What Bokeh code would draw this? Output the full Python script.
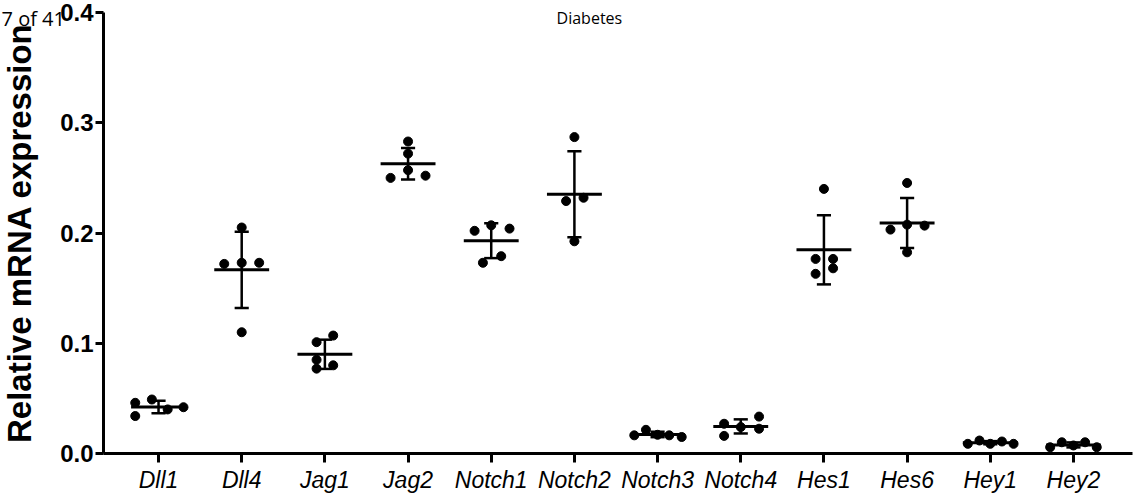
import numpy as np
from bokeh.plotting import figure
from bokeh.models import FixedTicker, NumeralTickFormatter, Range1d, Label
from bokeh.embed import file_html
from bokeh.resources import INLINE

# ---- data ----
genes = ["Dll1", "Dll4", "Jag1", "Jag2", "Notch1", "Notch2",
         "Notch3", "Notch4", "Hes1", "Hes6", "Hey1", "Hey2"]

dll1 = [0.046, 0.034, 0.049, 0.040, 0.042]
dll4 = [0.205, 0.172, 0.173, 0.173, 0.110]
jag1 = [0.101, 0.107, 0.085, 0.077, 0.080]
jag2 = [0.283, 0.272, 0.257, 0.250, 0.252]
notch1 = [0.202, 0.204, 0.207, 0.173, 0.179]
notch2 = [0.287, 0.229, 0.232, 0.1925]
notch3 = [0.0165, 0.0215, 0.017, 0.0165, 0.015]
notch4 = [0.027, 0.016, 0.024, 0.0335, 0.0225]
hes1 = [0.240, 0.1765, 0.1765, 0.168, 0.163]
hes6 = [0.2454, 0.2031, 0.2076, 0.2067, 0.1825]
hey1 = [0.0088, 0.0118, 0.0088, 0.0109, 0.0088]
hey2 = [0.0057, 0.0102, 0.0073, 0.0102, 0.0057]

y_ticks = [0.0, 0.1, 0.2, 0.3, 0.4]

series = [dll1, dll4, jag1, jag2, notch1, notch2,
          notch3, notch4, hes1, hes6, hey1, hey2]

# horizontal scatter spread of the dots within each column (layout only)
spread = [
    [-0.28, -0.28, -0.08, 0.11, 0.30],
    [0.0, -0.21, 0.0, 0.21, 0.0],
    [-0.10, 0.10, -0.10, -0.10, 0.10],
    [0.0, 0.0, 0.0, -0.21, 0.21],
    [-0.20, 0.22, 0.0, -0.10, 0.12],
    [0.0, -0.10, 0.11, 0.0],
    [-0.28, -0.14, 0.0, 0.14, 0.29],
    [-0.20, -0.20, 0.0, 0.22, 0.22],
    [0.0, -0.10, 0.11, 0.11, -0.10],
    [0.0, -0.20, 0.0, 0.21, 0.0],
    [-0.27, -0.13, 0.0, 0.14, 0.28],
    [-0.28, -0.14, 0.0, 0.14, 0.28],
]

FONT = "Liberation Sans"
# view window (the frame covers the whole canvas; axes are pinned at x0 / y=0)
X_LEFT, X_AXIS, X_END, X_RIGHT = -1.90, -0.661, 11.71, 11.77
Y_BOTTOM, Y_TOP = -0.0417, 0.4109

p = figure(width=1137, height=499, output_backend="svg", toolbar_location=None,
           x_range=Range1d(X_LEFT, X_RIGHT), y_range=Range1d(Y_BOTTOM, Y_TOP),
           min_border_left=0, min_border_right=0, min_border_top=0,
           min_border_bottom=0)
p.outline_line_color = None
p.xgrid.visible = False
p.ygrid.visible = False
p.background_fill_color = "white"
p.border_fill_color = "white"

# dots
xs, ys = [], []
for i, (vals, offs) in enumerate(zip(series, spread)):
    for v, o in zip(vals, offs):
        xs.append(i + o)
        ys.append(v)
p.scatter(xs, ys, size=9, color="black")

# mean and SD
idx = np.arange(len(genes))
means = np.array([np.mean(s) for s in series])
sds = np.array([np.std(s, ddof=1) for s in series])
half_mean = 0.33
half_cap = 0.085
p.segment(idx - half_mean, means, idx + half_mean, means, line_width=3, color="black")
p.segment(idx, means - sds, idx, means + sds, line_width=2.5, color="black")
p.segment(idx - half_cap, means + sds, idx + half_cap, means + sds, line_width=2.5, color="black")
p.segment(idx - half_cap, means - sds, idx + half_cap, means - sds, line_width=2.5, color="black")

# x axis, pinned at y = 0
xa = p.xaxis[0]
xa.fixed_location = 0.0
xa.ticker = FixedTicker(ticks=list(range(len(genes))))
xa.major_label_overrides = {i: g for i, g in enumerate(genes)}
xa.bounds = (X_AXIS, X_END)
xa.major_label_text_font = FONT
xa.major_label_text_font_style = "italic"
xa.major_label_text_font_size = "23px"
xa.major_label_text_color = "black"
xa.major_label_standoff = 4
xa.axis_line_width = 3
xa.axis_line_color = "black"
xa.major_tick_line_width = 3
xa.major_tick_line_color = "black"
xa.major_tick_out = 9
xa.major_tick_in = 0
xa.minor_tick_line_color = None

# y axis, pinned at the left end of the x axis
ya = p.yaxis[0]
ya.fixed_location = X_AXIS
ya.bounds = (0.0, 0.4)
ya.ticker = FixedTicker(ticks=y_ticks)
ya.formatter = NumeralTickFormatter(format="0.0")
ya.major_label_text_font = FONT
ya.major_label_text_font_style = "bold"
ya.major_label_text_font_size = "24px"
ya.major_label_text_color = "black"
ya.major_label_standoff = 2
ya.axis_line_width = 3
ya.axis_line_color = "black"
ya.major_tick_line_width = 3
ya.major_tick_line_color = "black"
ya.major_tick_out = 8
ya.major_tick_in = 0
ya.minor_tick_line_color = None
ya.axis_label = "Relative mRNA expression"
ya.axis_label_text_font = FONT
ya.axis_label_text_font_style = "bold"
ya.axis_label_text_font_size = "33px"
ya.axis_label_text_color = "black"
ya.axis_label_standoff = 19

# page header texts
p.add_layout(Label(x=5.18, y=0.3946, text="Diabetes", text_font="Open Sans",
                   text_font_size="16px", text_align="center",
                   text_baseline="middle", text_color="black"))
p.add_layout(Label(x=X_LEFT, y=0.3946, x_offset=1, text="7 of 41",
                   text_font="Open Sans", text_font_size="20px",
                   text_align="left", text_baseline="middle",
                   text_color="black"))

open("out.html", "w").write(file_html(p, INLINE))
